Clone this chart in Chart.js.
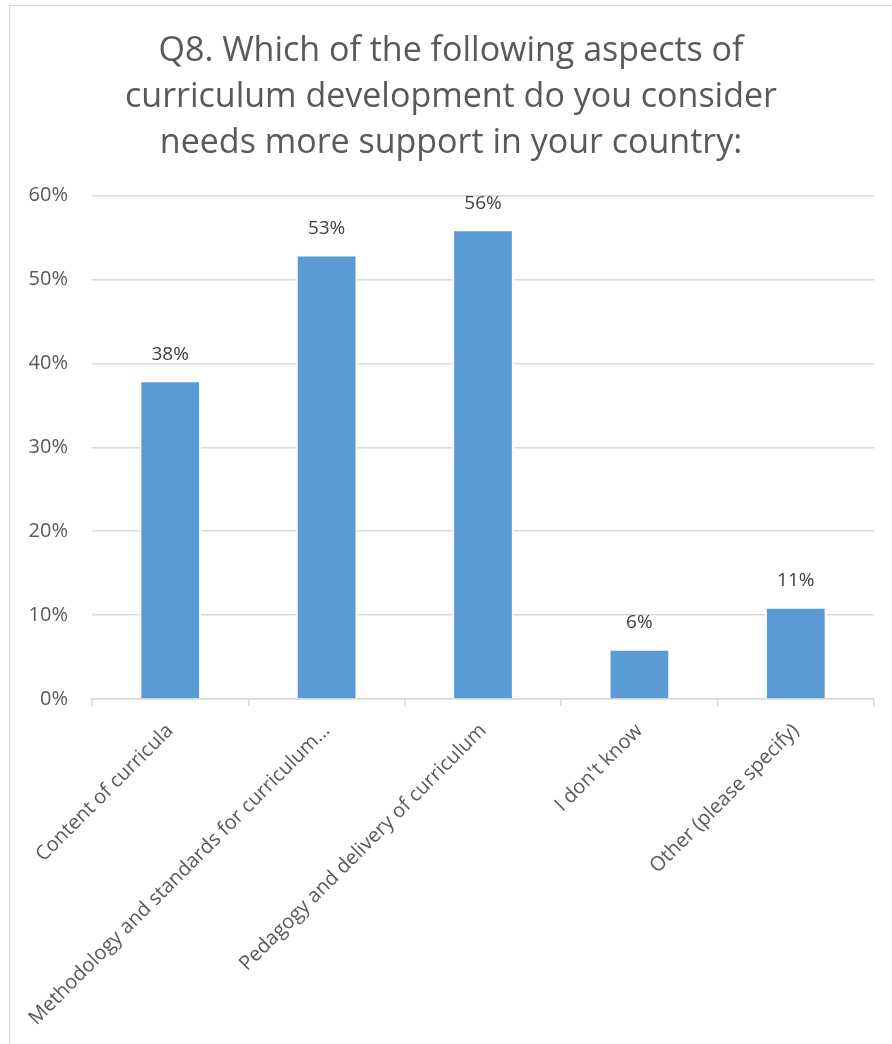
<!DOCTYPE html>
<html>
<head>
<meta charset="utf-8">
<script src="https://cdn.jsdelivr.net/npm/chart.js@4"></script>
<style>
  html, body { margin: 0; padding: 0; background: #fff; overflow: hidden; }
  #wrap { position: relative; width: 892px; height: 1044px; }
  #frame { position: absolute; left: 9px; top: 5px; width: 900px; height: 1060px; border: 1.5px solid #d9d9d9; box-sizing: border-box; }
  canvas { position: absolute; left: 0; top: 0; }
</style>
</head>
<body>
<div id="wrap">
  <div id="frame"></div>
  <canvas id="myChart1" width="892" height="1044"></canvas>
</div>
<script>
var categories = [
  "Content of curricula",
  "Methodology and standards for curriculum\u2026",
  "Pedagogy and delivery of curriculum",
  "I don't know",
  "Other (please specify)"
];

var values = [38, 53, 56, 6, 11];

var yticks = [0, 10, 20, 30, 40, 50, 60];

var titleLines = [
  "Q8. Which of the following aspects of",
  "curriculum development do you consider",
  "needs more support in your country:"
];

var fontFamily = "'Open Sans', sans-serif";

// value labels above each bar
var barLabels = {
  id: 'barLabels',
  afterDatasetsDraw: function(chart) {
    var ctx = chart.ctx;
    var meta = chart.getDatasetMeta(0);
    ctx.save();
    ctx.font = "19px " + fontFamily;
    ctx.fillStyle = "#404040";
    ctx.textAlign = "center";
    ctx.textBaseline = "middle";
    meta.data.forEach(function(bar, i) {
      ctx.fillText(values[i] + "%", bar.x, bar.y - 26);
    });
    ctx.restore();
  }
};

var ctx = document.getElementById("myChart1").getContext("2d");

var chart = new Chart(ctx, {
  type: 'bar',
  data: {
    labels: categories,
    datasets: [{
      data: values,
      backgroundColor: "#5b9bd5",
      borderColor: "#ffffff",
      borderWidth: 2,
      categoryPercentage: 1,
      barPercentage: 0.395
    }]
  },
  options: {
    responsive: false,
    animation: false,
    layout: { padding: { left: 28, right: 18, top: 0, bottom: 0 } },
    plugins: {
      legend: { display: false },
      tooltip: { enabled: false },
      title: {
        display: true,
        text: titleLines,
        color: "#595959",
        font: { family: fontFamily, size: 34, weight: 'normal', lineHeight: 1.36 },
        padding: { top: 28, bottom: 29 }
      }
    },
    scales: {
      y: {
        min: 0,
        max: 60,
        afterBuildTicks: function(scale) {
          scale.ticks = yticks.map(function(v) { return { value: v }; });
        },
        afterFit: function(scale) { scale.width = 64; },
        border: { display: false },
        grid: { color: "#d9d9d9", lineWidth: 1.5, drawTicks: false },
        ticks: {
          color: "#595959",
          padding: 24,
          font: { family: fontFamily, size: 20 },
          callback: function(v) { return v + "%"; }
        }
      },
      x: {
        offset: true,
        afterFit: function(scale) { scale.height = 345; },
        border: { display: true, color: "#d9d9d9", width: 1.5 },
        grid: { offset: true, drawOnChartArea: false, color: "#d9d9d9", lineWidth: 1.5, tickLength: 7 },
        ticks: {
          color: "#595959",
          minRotation: 45,
          maxRotation: 45,
          autoSkip: false,
          padding: 13,
          font: { family: fontFamily, size: 20 }
        }
      }
    }
  },
  plugins: [barLabels]
});
</script>
</body>
</html>
